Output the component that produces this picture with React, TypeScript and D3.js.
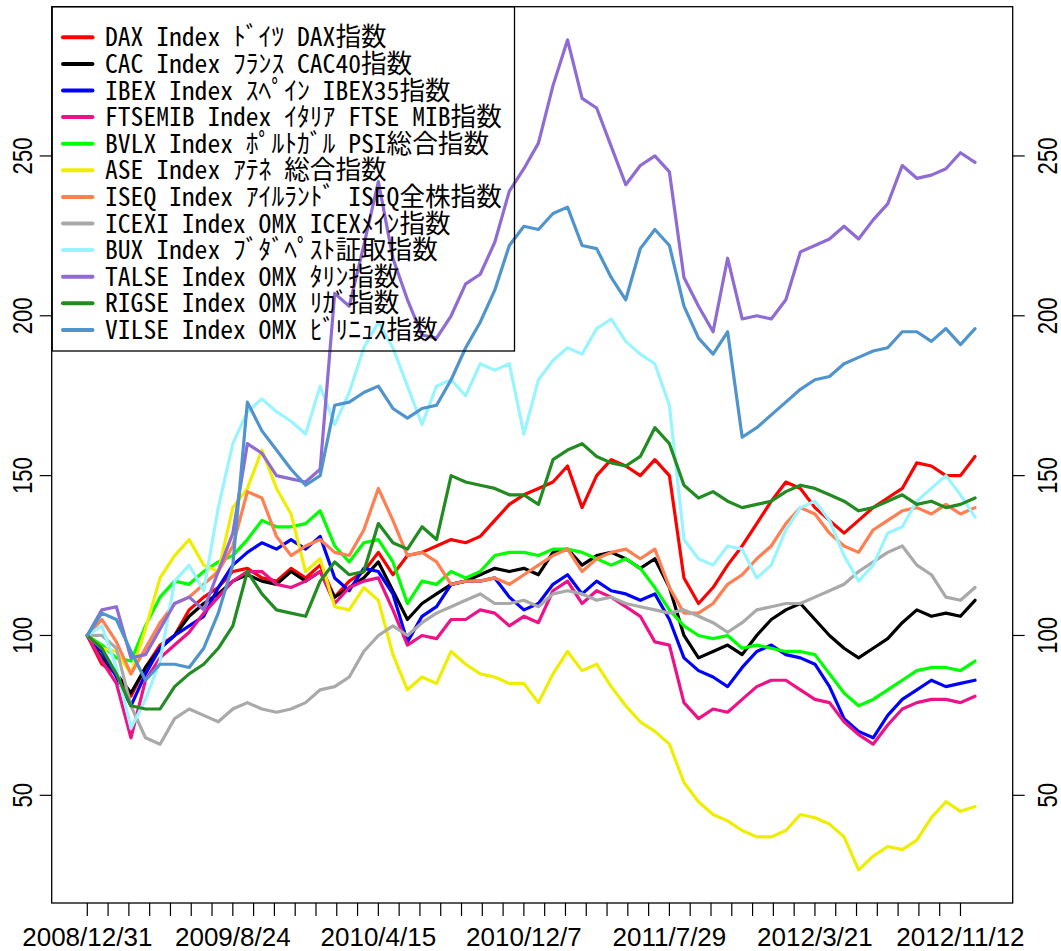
import React from 'react';
import * as d3 from 'd3';

const N = 857;
const STEP = 14;
const TICK_EVERY = 20;
const LABEL_EVERY = 140;
const X_LABELS = ['2008/12/31', '2009/8/24', '2010/4/15', '2010/12/7', '2011/7/29', '2012/3/21', '2012/11/12'];
const Y_TICKS = [50, 100, 150, 200, 250];

const DAX = [100,91,88,81,90,97,100,108,112,115, 120,121,118,117,121,118,122,112,117,120, 126,119,125,126,128,130,129,131,136,141, 144,146,148,153,140,150,155,153,150,155, 150,118,110,115,122,128,135,142,148,146, 140,136,132,136,140,143,146,154,153,150, 150,156];
const CAC = [100,93,88,82,90,96,100,106,110,113, 117,119,117,116,120,117,120,112,115,118, 123,114,105,110,113,116,117,119,121,120, 121,119,126,127,122,125,126,124,121,124, 115,100,93,95,97,94,100,105,108,110, 105,100,96,93,96,99,104,108,106,107, 106,111];
const IBEX = [100,95,87,78,88,96,100,103,106,115, 122,126,129,127,130,127,131,118,114,121, 120,113,98,106,109,116,117,117,118,112, 108,110,116,119,113,117,114,113,111,113, 105,93,89,87,84,90,95,97,94,93, 91,84,74,70,68,75,80,83,86,84, 85,86];
const FTSEMIB = [100,92,85,68,86,93,97,101,107,112, 117,120,120,116,115,117,120,110,115,117, 118,108,97,100,99,105,105,108,107,103, 106,104,114,117,110,114,112,109,106,98, 97,79,74,77,76,80,84,86,86,83, 80,79,73,69,66,72,77,79,80,80, 79,81];
const BVLX = [100,97,93,92,103,112,117,116,120,123, 125,130,136,134,134,135,139,128,123,129, 130,123,110,117,116,120,118,120,125,126, 126,125,127,127,126,124,122,124,121,115, 108,103,100,99,100,96,97,96,95,95, 94,88,82,78,80,83,86,89,90,90, 89,92];
const ASE = [100,96,95,88,102,118,125,130,122,120, 140,146,158,146,138,120,124,109,108,115, 111,94,83,87,85,95,91,88,87,85, 85,79,88,95,89,91,84,78,73,70, 66,54,48,44,42,39,37,37,39,44, 43,41,37,26.7,31,34,33,36,43,48, 45,46.5];
const ISEQ = [100,105,98,88,96,104,110,112,116,120, 128,145,143,131,125,128,130,126,125,133, 146,136,125,126,123,116,117,117,118,116, 119,122,125,127,120,124,126,127,124,127, 115,107,107,110,116,119,124,128,135,140, 138,132,128,126,133,136,139,140,138,141, 138,140];
const ICEXI = [100,100,96,78,68,66,74,77,75,73, 77,79,77,76,77,79,83,84,87,95, 100,103,100,104,107,109,111,113,110,110, 111,109,113,114,113,111,112,110,109,108, 107,108,106,104,101,104,108,109,110,110, 112,114,116,120,123,126,128,122,119,112, 111,115];
const BUX = [100,103,90,71,80,92,117,122,114,140, 160,170,174,170,167,163,178,166,176,190, 198,190,178,166,178,180,175,185,183,185, 163,180,186,190,188,196,199,192,188,185, 172,130,124,122,128,127,118,122,133,140, 142,136,125,117,122,132,134,142,146,150, 144,137];
const TALSE = [100,108,109,93,94,102,110,112,108,120, 132,160,157,150,149,148,152,207,203,222, 242,218,205,194,193,200,210,213,223,239, 246,254,272,286.3,268,265,253,241,247,250, 245,212,203,195,218,199,200,199,205,220, 222,224,228,224,230,235,247,243,244,246, 251,248];
const RIGSE = [100,96,88,78,77,77,84,88,91,96, 103,120,113,108,107,106,117,123,119,120, 135,129,127,134,130,150,148,147,146,144, 144,141,155,158,160,156,154,153,156,165, 160,147,143,145,142,140,141,142,145,147, 146,144,142,139,140,142,144,141,142,140, 141,143];
const VILSE = [100,107,105,95,86,91,91,90,96,107, 122,173,164,158,152,147,150,172,173,176, 178,171,168,171,172,180,190,198,208,222, 228,227,232,234,222,221,212,205,221,227, 222,203,193,188,195,162,165,169,173,177, 180,181,185,187,189,190,195,195,192,196, 191,196];

const NAMES = [
  'DAX Index ﾄﾞｲﾂ DAX指数',
  'CAC Index ﾌﾗﾝｽ CAC40指数',
  'IBEX Index ｽﾍﾟｲﾝ IBEX35指数',
  'FTSEMIB Index ｲﾀﾘｱ FTSE MIB指数',
  'BVLX Index ﾎﾟﾙﾄｶﾞﾙ PSI総合指数',
  'ASE Index ｱﾃﾈ 総合指数',
  'ISEQ Index ｱｲﾙﾗﾝﾄﾞ ISEQ全株指数',
  'ICEXI Index OMX ICEXﾒｲﾝ指数',
  'BUX Index ﾌﾞﾀﾞﾍﾟｽﾄ証取指数',
  'TALSE Index OMX ﾀﾘﾝ指数',
  'RIGSE Index OMX ﾘｶﾞ指数',
  'VILSE Index OMX ﾋﾞﾘﾆｭｽ指数',
];
const COLORS = ['#FF0000', '#000000', '#0000FF', '#EE1289', '#00FF00', '#EEEE00', '#FF7F50', '#A9A9A9', '#98F5FF', '#8F6BD4', '#228B22', '#4F94CD'];
const VALUES = [DAX, CAC, IBEX, FTSEMIB, BVLX, ASE, ISEQ, ICEXI, BUX, TALSE, RIGSE, VILSE];

const W = 1061;
const H = 951;
const PLOT = { left: 51.7, right: 1012.7, top: 6.7, bottom: 903 };

function units(ch: string) {
  const c = ch.codePointAt(0) || 0;
  return c < 0x80 || (c >= 0xff61 && c <= 0xff9f) ? 1 : 2;
}

export default function App() {
  const padX = 0.04 * (N - 1);
  const x = d3.scaleLinear().domain([1 - padX, N + padX]).range([PLOT.left, PLOT.right]);
  const all = VALUES.flat();
  const lo = d3.min(all) as number;
  const hi = d3.max(all) as number;
  const padY = 0.04 * (hi - lo);
  const y = d3.scaleLinear().domain([lo - padY, hi + padY]).range([PLOT.bottom, PLOT.top]);

  const line = d3
    .line<number>()
    .x((_, i) => x(1 + i * STEP))
    .y((v) => y(v));

  const ticks = d3.range(1, N, TICK_EVERY);
  const labelIdx = X_LABELS.map((_, i) => 1 + i * LABEL_EVERY);

  const legendFont = '"Noto Sans Mono CJK JP", "Noto Sans CJK JP", "DejaVu Sans Mono", monospace';
  const axisFont = '"Liberation Sans", Arial, Helvetica, sans-serif';
  const cell = 12.8;
  const textX0 = 105;

  return (
    <svg width={W} height={H} style={{ position: 'absolute', left: 0, top: 0, background: '#fff' }}>
      <rect x={0} y={0} width={W} height={H} fill="#fff" />
      {VALUES.map((vals, k) => (
        <path key={k} d={line(vals) || ''} fill="none" stroke={COLORS[k]} strokeWidth={3.2} strokeLinejoin="round" strokeLinecap="round" />
      ))}
      <rect x={PLOT.left} y={PLOT.top} width={PLOT.right - PLOT.left} height={PLOT.bottom - PLOT.top} fill="none" stroke="#000" strokeWidth={1.3} />
      {ticks.map((t) => (
        <line key={t} x1={x(t)} x2={x(t)} y1={PLOT.bottom} y2={PLOT.bottom + 13} stroke="#000" strokeWidth={1.2} />
      ))}
      {X_LABELS.map((lab, i) => (
        <text key={lab} x={x(labelIdx[i])} y={946} textAnchor="middle" fontFamily={axisFont} fontSize={26} fill="#000">
          {lab}
        </text>
      ))}
      {Y_TICKS.map((v) => (
        <g key={v}>
          <line x1={PLOT.left - 12} x2={PLOT.left} y1={y(v)} y2={y(v)} stroke="#000" strokeWidth={1.2} />
          <line x1={PLOT.right} x2={PLOT.right + 12} y1={y(v)} y2={y(v)} stroke="#000" strokeWidth={1.2} />
          <text transform={`translate(31.7,${y(v)}) rotate(-90)`} textAnchor="middle" fontFamily={axisFont} fontSize={27} textLength={String(v).length * 12.3} lengthAdjust="spacingAndGlyphs" fill="#000">
            {v}
          </text>
          <text transform={`translate(1056.7,${y(v)}) rotate(-90)`} textAnchor="middle" fontFamily={axisFont} fontSize={27} textLength={String(v).length * 12.3} lengthAdjust="spacingAndGlyphs" fill="#000">
            {v}
          </text>
        </g>
      ))}
      <rect x={52.2} y={PLOT.top} width={514.5 - 52.2} height={351 - PLOT.top} fill="none" stroke="#000" strokeWidth={1.3} />
      {NAMES.map((name, k) => {
        const cy = 37.3 + k * 26.6;
        const chars = Array.from(name);
        let cum = 0;
        const xs = chars.map((ch) => {
          const p = textX0 + cum * cell;
          cum += units(ch);
          return p.toFixed(1);
        });
        return (
          <g key={name}>
            <line x1={63} x2={92.5} y1={cy} y2={cy} stroke={COLORS[k]} strokeWidth={4} strokeLinecap="round" />
            <text x={xs.join(' ')} y={cy + 9} fontFamily={legendFont} fontSize={25.6} fill="#000">
              {name}
            </text>
          </g>
        );
      })}
    </svg>
  );
}
